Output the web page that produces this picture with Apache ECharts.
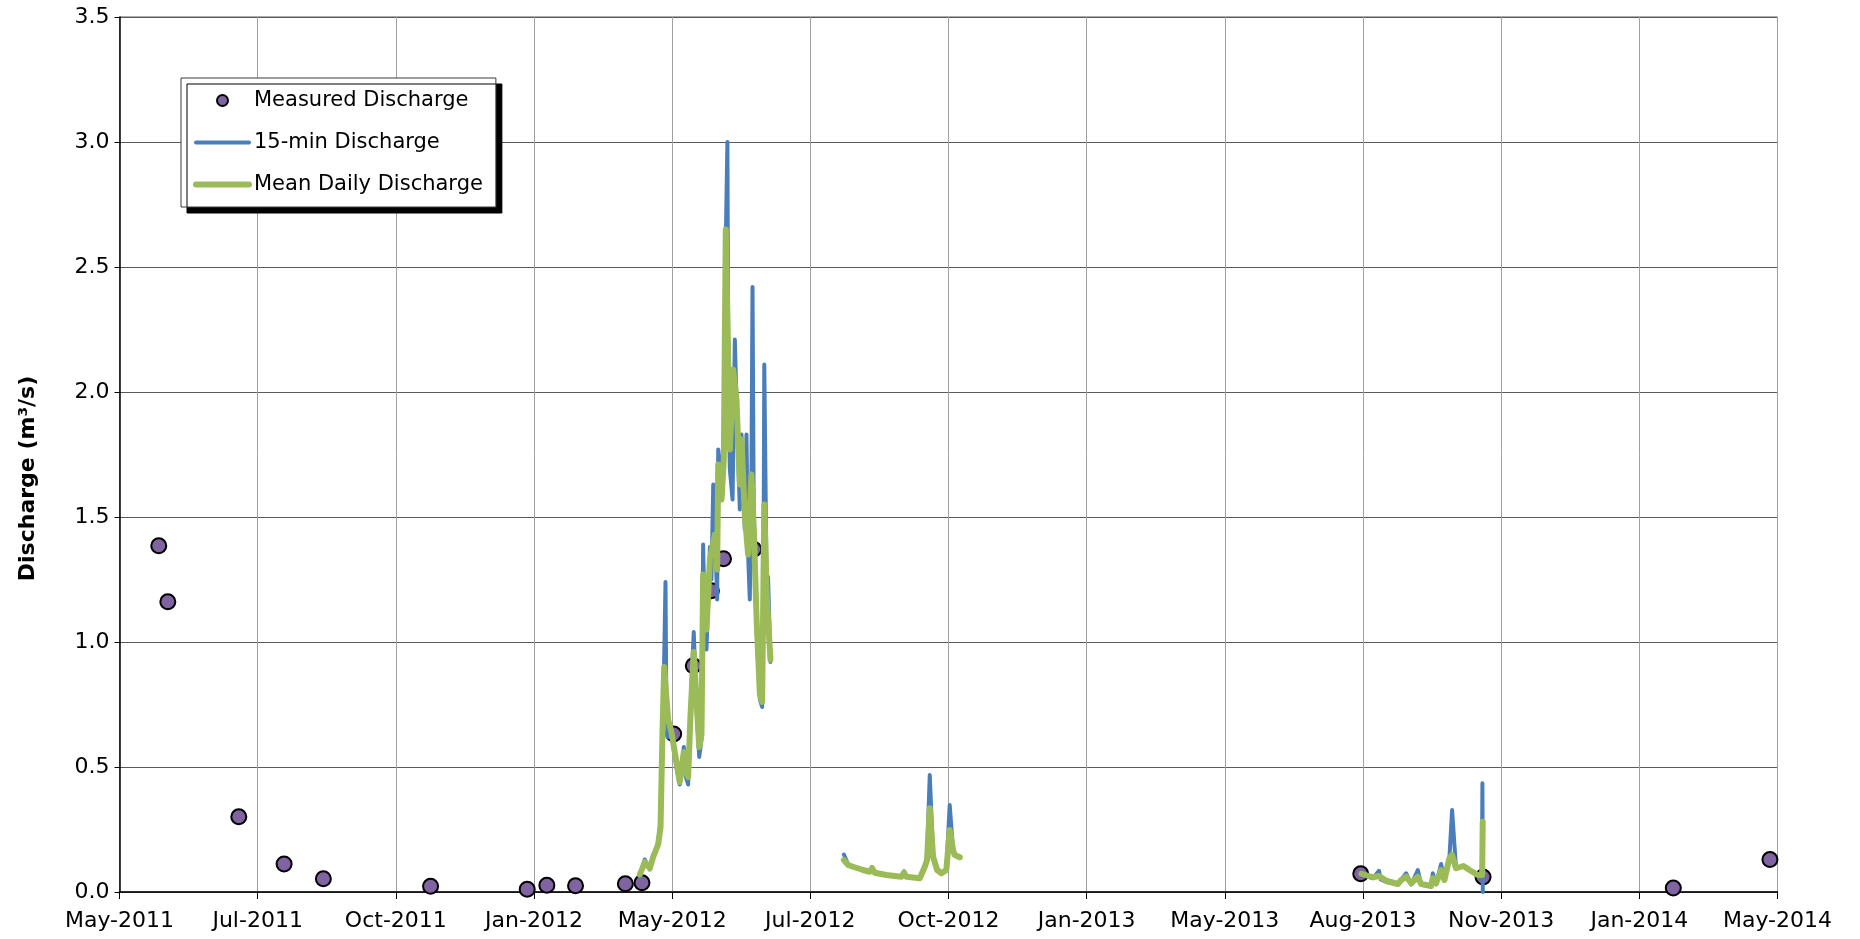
<!DOCTYPE html>
<html>
<head>
<meta charset="utf-8">
<title>Discharge</title>
<script src="https://cdn.jsdelivr.net/npm/echarts@6/dist/echarts.min.js"></script>
<style>
html,body{margin:0;padding:0;background:#fff;}
#chart{width:1860px;height:939px;}
</style>
</head>
<body>
<div id="chart"></div>
<script>
// x axis: days counted from the first tick, one tick every 91.5 days
var axisStart = '2011-05-01';
var tickStepDays = 91.5;
var xTickLabels = ['May-2011','Jul-2011','Oct-2011','Jan-2012','May-2012','Jul-2012','Oct-2012',
    'Jan-2013','May-2013','Aug-2013','Nov-2013','Jan-2014','May-2014'];
var yMax = 3.5;
var yStep = 0.5;

// measured discharge (m3/s)
var measuredDates = ['2011-05-27','2011-06-02','2011-07-19','2011-08-18','2011-09-13','2011-11-23',
    '2012-01-26','2012-02-08','2012-02-27','2012-03-31','2012-04-11','2012-05-02','2012-05-15',
    '2012-05-27','2012-06-04','2012-06-24','2013-07-31','2013-10-20','2014-02-23','2014-04-28'];
var measuredValues = [1.385,1.161,0.301,0.112,0.053,0.023,
    0.011,0.027,0.025,0.033,0.037,0.632,0.905,
    1.205,1.333,1.371,0.073,0.060,0.016,0.130];

// 15-min discharge, null = gap in record
var q15Dates = [
    '2012-04-09 14','2012-04-11 06','2012-04-12 22','2012-04-14 12','2012-04-16 05','2012-04-18 10',
    '2012-04-20 00','2012-04-21 17','2012-04-23 07','2012-04-24 14','2012-04-25 12','2012-04-26 14',
    '2012-04-27 02','2012-04-27 20','2012-04-28 10','2012-04-29 12','2012-04-30 12','2012-05-02 17',
    '2012-05-04 12','2012-05-06 00','2012-05-07 12','2012-05-08 17','2012-05-10 00','2012-05-11 14',
    '2012-05-13 02','2012-05-14 06','2012-05-15 07','2012-05-16 00','2012-05-17 06','2012-05-18 22',
    '2012-05-20 10','2012-05-21 12','2012-05-22 12','2012-05-23 17','2012-05-25 00','2012-05-26 00',
    '2012-05-27 00','2012-05-28 05','2012-05-29 07','2012-05-30 19','2012-05-31 12','2012-06-01 12',
    '2012-06-02 17','2012-06-04 05','2012-06-05 12','2012-06-06 14','2012-06-07 05','2012-06-08 05',
    '2012-06-10 00','2012-06-11 12','2012-06-12 14','2012-06-14 19','2012-06-15 22','2012-06-18 02',
    '2012-06-19 05','2012-06-20 07','2012-06-21 10','2012-06-22 12','2012-06-23 05','2012-06-24 02',
    '2012-06-25 22','2012-06-28 02','2012-06-29 14','2012-06-30 12','2012-07-01 00','2012-07-02 14',
    '2012-07-03 12','2012-07-05 02',
    '2012-07-20 00',
    '2012-08-22 17','2012-08-25 14','2012-08-28 19','2012-09-04 10','2012-09-08 19','2012-09-10 10',
    '2012-09-12 05','2012-09-19 22','2012-09-29 19','2012-10-01 14','2012-10-03 02','2012-10-12 00',
    '2012-10-15 07','2012-10-16 19','2012-10-18 14','2012-10-20 19','2012-10-23 12','2012-10-26 07',
    '2012-10-29 14','2012-10-31 19','2012-11-03 00','2012-11-04 02','2012-11-07 12',
    '2013-03-01 00',
    '2013-07-31 10','2013-08-08 02','2013-08-12 02','2013-08-13 06','2013-08-16 22','2013-08-24 14',
    '2013-08-26 19','2013-08-30 02','2013-09-02 10','2013-09-06 19','2013-09-09 00','2013-09-15 14',
    '2013-09-16 17','2013-09-18 22','2013-09-22 05','2013-09-24 10','2013-09-27 17','2013-09-29 12',
    '2013-10-02 02','2013-10-07 00','2013-10-11 00','2013-10-16 12','2013-10-19 06','2013-10-19 14',
    '2013-10-19 20'];
var q15Values = [
    0.06,0.10,0.13,0.11,0.09,0.15,
    0.16,0.20,0.28,0.62,0.86,1.24,
    0.80,0.62,0.70,0.62,0.64,0.54,
    0.48,0.43,0.50,0.58,0.46,0.43,
    0.72,0.90,1.04,0.92,0.72,0.54,
    0.61,1.39,1.10,0.97,1.20,1.38,
    1.25,1.63,1.45,1.17,1.77,1.72,
    1.65,1.70,2.60,3.00,2.00,1.69,
    1.57,2.21,1.97,1.53,1.83,1.45,
    1.83,1.35,1.17,1.67,2.42,1.45,
    1.05,0.77,0.74,1.30,2.11,1.20,
    1.26,0.92,
    null,
    0.15,0.11,0.10,0.09,0.08,0.10,
    0.077,0.068,0.06,0.083,0.06,0.055,
    0.10,0.14,0.468,0.15,0.085,0.075,
    0.09,0.348,0.17,0.148,0.139,
    null,
    0.07,0.055,0.085,0.05,0.04,0.03,
    0.05,0.075,0.03,0.088,0.03,0.022,
    0.075,0.03,0.112,0.045,0.135,0.328,
    0.095,0.104,0.088,0.068,0.068,0.435,
    0.0];

// mean daily discharge
var dailyDates = [
    '2012-04-09 14','2012-04-12 22','2012-04-16 05','2012-04-18 10','2012-04-21 17','2012-04-23 07',
    '2012-04-24 14','2012-04-25 17','2012-04-28 07','2012-04-30 12','2012-05-02 17','2012-05-06 00',
    '2012-05-08 17','2012-05-10 00','2012-05-11 14','2012-05-13 02','2012-05-15 07','2012-05-18 22',
    '2012-05-20 10','2012-05-21 12','2012-05-23 17','2012-05-26 00','2012-05-29 07','2012-05-30 19',
    '2012-05-31 12','2012-06-02 17','2012-06-04 05','2012-06-05 12','2012-06-08 05','2012-06-10 10',
    '2012-06-12 14','2012-06-14 19','2012-06-15 22','2012-06-18 02','2012-06-20 07','2012-06-22 12',
    '2012-06-24 02','2012-06-25 22','2012-06-28 02','2012-06-29 14','2012-07-01 00','2012-07-02 14',
    '2012-07-05 02',
    '2012-07-20 00',
    '2012-08-22 17','2012-08-25 14','2012-08-28 19','2012-09-04 10','2012-09-08 19','2012-09-10 10',
    '2012-09-12 05','2012-09-19 22','2012-09-29 19','2012-10-01 14','2012-10-03 02','2012-10-12 00',
    '2012-10-15 07','2012-10-16 19','2012-10-18 14','2012-10-20 19','2012-10-23 12','2012-10-26 07',
    '2012-10-29 14','2012-10-31 19','2012-11-03 00','2012-11-04 02','2012-11-07 12',
    '2013-03-01 00',
    '2013-07-31 10','2013-08-08 02','2013-08-12 02','2013-08-16 22','2013-08-24 14','2013-08-26 19',
    '2013-08-30 02','2013-09-02 10','2013-09-06 19','2013-09-09 00','2013-09-15 14','2013-09-16 17',
    '2013-09-18 22','2013-09-22 05','2013-09-24 10','2013-09-27 17','2013-09-29 12','2013-10-02 02',
    '2013-10-07 00','2013-10-11 00','2013-10-16 12','2013-10-19 10','2013-10-19 19'];
var dailyValues = [
    0.07,0.12,0.095,0.14,0.19,0.26,
    0.64,0.90,0.69,0.64,0.56,0.44,
    0.56,0.48,0.46,0.70,0.96,0.58,
    0.63,1.27,1.05,1.33,1.43,1.29,
    1.71,1.57,1.73,2.65,1.77,2.09,
    1.97,1.63,1.81,1.51,1.35,1.67,
    1.45,1.09,0.79,0.76,1.55,1.19,
    0.93,
    null,
    0.128,0.108,0.101,0.088,0.081,0.095,
    0.077,0.068,0.061,0.077,0.061,0.055,
    0.101,0.128,0.335,0.141,0.088,0.075,
    0.088,0.248,0.168,0.148,0.139,
    null,
    0.073,0.059,0.064,0.045,0.032,0.048,
    0.061,0.035,0.061,0.032,0.024,0.055,
    0.035,0.088,0.048,0.135,0.148,0.095,
    0.104,0.088,0.068,0.068,0.281];

var DAY = 86400000;
var MS_START = parseDate(axisStart);

function parseDate(s){
    var p = s.split(/[- ]/);
    return Date.UTC(+p[0], +p[1]-1, +p[2], p[3] ? +p[3] : 0);
}

// date strings -> [day offset, value] pairs, null makes a break in the line
function toPairs(dates, values){
    var out = [];
    for(var i=0;i<dates.length;i++){
        var x = (parseDate(dates[i]) - MS_START) / DAY;
        out.push([x, values[i] === null ? '-' : values[i]]);
    }
    return out;
}

var FONT = 'DejaVu Sans';
var BLUE = '#4a7ebb';
var GREEN = '#9bbb59';
var PURPLE = '#8064a2';

var chart = echarts.init(document.getElementById('chart'), null, {renderer:'canvas'});

var option = {
    animation:false,
    backgroundColor:'#fff',
    grid:{
        left:119.5, right:82.5, top:17, bottom:47,
        show:true, borderColor:'#5a5a5a', borderWidth:1
    },
    legend:{
        orient:'vertical',
        left:181, top:78,
        padding:[12,13,12,12],
        itemGap:21,
        itemWidth:53, itemHeight:11,
        backgroundColor:'#fff',
        borderColor:'#3a3a3a', borderWidth:1,
        shadowColor:'#000', shadowBlur:0, shadowOffsetX:6, shadowOffsetY:6,
        textStyle:{fontFamily:FONT, fontSize:21, color:'#000'},
        data:[
            {name:'Measured Discharge'},
            {name:'15-min Discharge', itemStyle:{opacity:0}, lineStyle:{width:4, cap:'round'}},
            {name:'Mean Daily Discharge', itemStyle:{opacity:0}, lineStyle:{width:6, cap:'round'}}
        ]
    },
    xAxis:{
        type:'value',
        min:0,
        max:tickStepDays * (xTickLabels.length - 1),
        interval:tickStepDays,
        axisLine:{show:true, onZero:false, lineStyle:{color:'#000', width:1.5}},
        axisTick:{show:true, length:7, lineStyle:{color:'#000'}},
        splitLine:{show:true, lineStyle:{color:'#a0a0a0', width:1}},
        axisLabel:{
            margin:18,
            fontFamily:FONT, fontSize:22, color:'#000',
            showMinLabel:true, showMaxLabel:true,
            formatter:function(v){
                return xTickLabels[Math.round(v / tickStepDays)] || '';
            }
        }
    },
    yAxis:{
        type:'value',
        min:0, max:yMax, interval:yStep,
        name:'Discharge (m\u00b3/s)',
        nameLocation:'middle',
        nameRotate:90,
        nameGap:80,
        nameTextStyle:{fontFamily:FONT, fontSize:22, fontWeight:'bold', color:'#000', padding:[0,48,0,0]},
        axisLine:{show:true, lineStyle:{color:'#000', width:1.5}},
        axisTick:{show:true, length:5, lineStyle:{color:'#000'}},
        splitLine:{show:true, lineStyle:{color:'#5a5a5a', width:1}},
        axisLabel:{
            margin:10,
            fontFamily:FONT, fontSize:22, color:'#000',
            formatter:function(v){ return v.toFixed(1); }
        }
    },
    series:[
        {
            name:'15-min Discharge',
            type:'line',
            data:toPairs(q15Dates, q15Values),
            symbol:'none',
            connectNulls:false,
            color:BLUE,
            lineStyle:{color:BLUE, width:4, cap:'round', join:'round'}
        },
        {
            name:'Mean Daily Discharge',
            type:'line',
            data:toPairs(dailyDates, dailyValues),
            symbol:'none',
            connectNulls:false,
            color:GREEN,
            lineStyle:{color:GREEN, width:6, cap:'round', join:'round'}
        },
        {
            name:'Measured Discharge',
            type:'scatter',
            data:toPairs(measuredDates, measuredValues),
            symbol:'circle',
            symbolSize:15,
            itemStyle:{color:PURPLE, borderColor:'#000', borderWidth:2, opacity:1}
        }
    ]
};

chart.setOption(option);
</script>
</body>
</html>
